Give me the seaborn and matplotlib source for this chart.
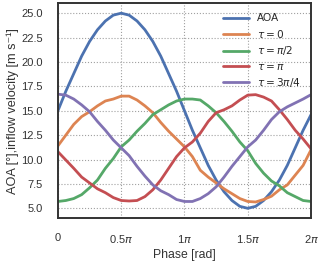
import numpy as np
import pandas as pd
import matplotlib
matplotlib.use("Agg")
import matplotlib.pyplot as plt
import seaborn as sns

# Phase in units of pi (steps of pi/16)
phase_pi = [i / 16 for i in range(33)]

aoa = [15.0, 17.0, 18.8, 20.6, 22.1, 23.3, 24.2, 24.8, 25.0, 24.8, 24.2, 23.3,
       22.1, 20.6, 18.8, 17.0, 15.0, 13.0, 11.2, 9.4, 7.9, 6.7, 5.8, 5.2,
       5.0, 5.2, 5.8, 6.7, 7.9, 9.4, 11.2, 13.0, 14.6]
tau_0 = [11.4, 12.5, 13.6, 14.4, 14.9, 15.5, 16.0, 16.2, 16.5, 16.5, 16.1, 15.5,
         14.8, 13.8, 12.9, 12.1, 11.3, 10.3, 8.9, 8.2, 7.6, 7.0, 6.5, 6.0,
         5.7, 5.65, 5.9, 6.24, 6.9, 7.4, 8.4, 9.4, 11.0]
tau_pi2 = [5.7, 5.8, 6.0, 6.4, 7.1, 7.9, 9.1, 10.1, 11.3, 12.0, 12.9, 13.7,
           14.6, 15.1, 15.6, 16.0, 16.2, 16.2, 16.1, 15.5, 14.8, 13.9, 12.9, 11.8,
           10.9, 9.6, 8.6, 7.8, 7.3, 6.6, 6.2, 5.8, 5.7]
tau_pi = [10.8, 9.95, 9.1, 8.2, 7.6, 7.0, 6.6, 6.1, 5.8, 5.75, 5.8, 6.2,
          6.9, 7.9, 9.1, 10.3, 11.2, 11.8, 12.7, 13.9, 14.8, 15.1, 15.5, 16.1,
          16.6, 16.65, 16.4, 16.0, 15.1, 14.1, 13.0, 12.1, 11.1]
tau_3pi4 = [16.7, 16.6, 16.2, 15.6, 14.9, 13.9, 13.0, 12.0, 11.2, 10.4, 9.3, 8.3,
            7.4, 6.8, 6.4, 5.9, 5.7, 5.7, 6.0, 6.5, 7.2, 8.2, 9.3, 10.3,
            11.3, 12.0, 13.0, 14.1, 14.9, 15.4, 15.8, 16.2, 16.65]

labels = ["AOA", r"$\tau = 0$", r"$\tau = \pi/2$", r"$\tau = \pi$", r"$\tau = 3\pi/4$"]
xtick_labels = ["0", r"0.5$\pi$", r"1$\pi$", r"1.5$\pi$", r"2$\pi$"]
ytick_values = [5, 7.5, 10, 12.5, 15, 17.5, 20, 22.5, 25]
ytick_labels = ["5.0", "7.5", "10.0", "12.5", "15.0", "17.5", "20.0", "22.5", "25.0"]

sns.set_theme(style="whitegrid", palette="deep")
plt.rcParams['font.family'] = ['Liberation Sans', 'DejaVu Sans']
plt.rcParams['mathtext.fontset'] = 'dejavusans'

phase = np.array(phase_pi) * np.pi
frames = []
for lab, vals in zip(labels, [aoa, tau_0, tau_pi2, tau_pi, tau_3pi4]):
    frames.append(pd.DataFrame({"phase": phase, "value": vals, "series": lab}))
df = pd.concat(frames, ignore_index=True)

fig = plt.figure(figsize=(3.2, 2.64), dpi=100)
ax = fig.add_axes([0.181, 0.174, 0.791, 0.813])
sns.lineplot(data=df, x="phase", y="value", hue="series", hue_order=labels,
             ax=ax, linewidth=2.0, sort=True)

ax.set_xlim(0, 2 * np.pi)
ax.set_ylim(4, 26)
ax.set_xticks(np.arange(0, 2.01, 0.5) * np.pi)
ax.set_xticklabels(xtick_labels)
ax.set_yticks(ytick_values)
ax.set_yticklabels(ytick_labels)
ax.tick_params(axis="both", length=0, pad=11, labelsize=8, labelcolor="#333333")
ax.grid(True, linestyle=":", color="#a0a0a0", linewidth=0.8)
for s in ax.spines.values():
    s.set_color("#333333")
    s.set_linewidth(1.4)
ax.set_xlabel("Phase [rad]", fontsize=8.8, color="#333333", labelpad=2.5)
ax.set_ylabel("AOA [°],inflow velocity [m s⁻¹]", fontsize=9.2, color="#333333",
              labelpad=1.5, family=['Liberation Sans', 'DejaVu Sans'])

leg = ax.legend(loc="upper right", frameon=False, fontsize=7.6, handlelength=2.45,
                labelspacing=0.42, borderaxespad=0.55, handletextpad=0.75)
for line in leg.get_lines():
    line.set_linewidth(2.0)

fig.savefig("out.png", dpi=100)
